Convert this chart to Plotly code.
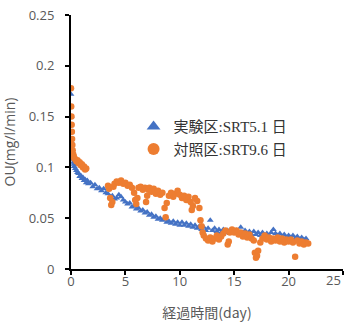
import plotly.graph_objects as go

# 実験区 (SRT5.1日) - blue triangles
exp_day = [0.0, 0.02, 0.04, 0.06, 0.08, 0.1, 0.15, 0.2, 0.25, 0.3, 0.4, 0.5, 0.6, 0.7, 0.8, 0.9,
           1.0, 1.1, 1.2, 1.3, 1.4, 1.5, 1.6, 1.8, 2.0, 2.2, 2.4, 2.6, 2.8, 3.0, 3.2, 3.4, 3.6, 3.8,
           4.0, 4.2, 4.4, 4.6, 4.8, 5.0, 5.2, 5.4, 5.6, 5.8, 6.0, 6.2, 6.4, 6.6, 6.8, 7.0, 7.2, 7.4,
           7.6, 7.8, 8.0, 8.2, 8.4, 8.6, 8.8, 9.0, 9.2, 9.4, 9.6, 9.8, 10.0, 10.2, 10.4, 10.6, 10.8,
           11.0, 11.2, 11.4, 11.6, 11.8, 12.0, 12.2, 12.4, 12.6, 12.8, 13.0, 13.2, 13.4, 13.6, 13.8,
           14.0, 14.2, 14.4, 14.6, 14.8, 15.0, 15.2, 15.4, 15.6, 15.8, 16.0, 16.2, 16.4, 16.6, 16.8,
           17.0, 17.2, 17.4, 17.6, 17.8, 18.0, 18.2, 18.4, 18.6, 18.8, 19.0, 19.2, 19.4, 19.6, 19.8,
           20.0, 20.2, 20.4, 20.6, 20.8, 21.0, 21.2, 21.4, 21.6]
exp_ou = [0.172, 0.15, 0.135, 0.125, 0.118, 0.113, 0.108, 0.105, 0.103, 0.101, 0.099, 0.097, 0.095,
          0.094, 0.091, 0.092, 0.089, 0.09, 0.087, 0.088, 0.085, 0.087, 0.084, 0.085, 0.081, 0.083,
          0.079, 0.08, 0.077, 0.079, 0.075, 0.074, 0.071, 0.072, 0.069, 0.07, 0.073, 0.071, 0.068,
          0.066, 0.064, 0.065, 0.061, 0.062, 0.059, 0.06, 0.057, 0.058, 0.055, 0.056, 0.053, 0.054,
          0.051, 0.052, 0.049, 0.05, 0.048, 0.049, 0.046, 0.047, 0.045, 0.047, 0.044, 0.046, 0.043,
          0.046, 0.043, 0.045, 0.042, 0.044, 0.041, 0.043, 0.04, 0.042, 0.039, 0.041, 0.038, 0.04,
          0.048, 0.038, 0.04, 0.037, 0.039, 0.036, 0.039, 0.036, 0.038, 0.035, 0.038, 0.036, 0.038,
          0.035, 0.041, 0.036, 0.038, 0.035, 0.037, 0.034, 0.037, 0.034, 0.036, 0.033, 0.036, 0.033,
          0.035, 0.033, 0.036, 0.039, 0.035, 0.033, 0.035, 0.032, 0.034, 0.031, 0.033, 0.031, 0.033,
          0.03, 0.032, 0.029, 0.031, 0.029, 0.03]

# 対照区 (SRT9.6日) - orange circles
ctl_day = [0.0, 0.02, 0.04, 0.06, 0.08, 0.1, 0.12, 0.15, 0.2, 0.25, 0.3, 0.4, 0.5, 0.6, 0.7, 0.8,
           0.9, 1.0, 1.1, 1.2, 1.3, 1.4,
           3.4, 3.5, 3.6, 3.7, 3.8, 3.9, 4.0, 4.2, 4.4, 4.6, 4.8, 5.0, 5.2, 5.4, 5.6, 5.8, 5.9, 6.0,
           6.1, 6.2, 6.4, 6.6, 6.8, 6.9, 7.0, 7.1, 7.2, 7.4, 7.6, 7.8, 8.0, 8.2, 8.4, 8.6, 8.7, 8.8,
           9.0, 9.2, 9.4, 9.6, 9.8, 10.0, 10.2, 10.4, 10.6, 10.8, 11.0, 11.1, 11.2, 11.4, 11.6, 11.8,
           11.9, 12.0, 12.1, 12.2, 12.4, 12.6, 12.8, 13.0, 13.2, 13.4, 13.6, 13.8, 14.0, 14.2, 14.4,
           14.5, 14.6, 14.8, 15.0, 15.2, 15.4, 15.6, 15.8, 16.0, 16.2, 16.4, 16.6, 16.8, 16.9, 17.0,
           17.1, 17.2, 17.4, 17.6, 17.8, 18.0, 18.2, 18.4, 18.6, 18.8, 19.0, 19.2, 19.4, 19.6, 19.8,
           20.0, 20.2, 20.4, 20.6, 20.8, 21.0, 21.2, 21.4, 21.6, 21.8]
ctl_ou = [0.178, 0.16, 0.15, 0.142, 0.135, 0.128, 0.122, 0.117, 0.113, 0.111, 0.109, 0.108, 0.106,
          0.107, 0.104, 0.105, 0.102, 0.103, 0.1, 0.101, 0.098, 0.099,
          0.082, 0.079, 0.07, 0.063, 0.066, 0.081, 0.084, 0.086, 0.085, 0.087, 0.084, 0.085, 0.082,
          0.083, 0.08, 0.075, 0.068, 0.064, 0.07, 0.08, 0.081, 0.078, 0.08, 0.066, 0.072, 0.078,
          0.08, 0.076, 0.079, 0.074, 0.077, 0.073, 0.075, 0.06, 0.051, 0.065, 0.072, 0.075, 0.071,
          0.074, 0.077, 0.073, 0.07, 0.072, 0.068, 0.071, 0.066, 0.058, 0.062, 0.07, 0.067, 0.06,
          0.048, 0.042, 0.036, 0.033, 0.03, 0.028, 0.031, 0.027, 0.03, 0.033, 0.029, 0.032, 0.035,
          0.038, 0.024, 0.027, 0.036, 0.039, 0.036, 0.038, 0.034, 0.036, 0.032, 0.035, 0.031, 0.034,
          0.03, 0.028, 0.016, 0.011, 0.013, 0.018, 0.026, 0.03, 0.033, 0.029, 0.031, 0.027, 0.03,
          0.028, 0.031, 0.027, 0.03, 0.026, 0.029, 0.027, 0.029, 0.026, 0.012, 0.028, 0.025, 0.027,
          0.024, 0.026, 0.025]

x_ticks = [0, 5, 10, 15, 20, 25]
x_tick_text = ["0", "5", "10", "15", "20", ""]   # "25" is drawn right-aligned below so it stays inside the page
x_last_label = "25"
y_ticks = [0, 0.05, 0.1, 0.15, 0.2, 0.25]
y_tick_text = ["0", "0.05", "0.1", "0.15", "0.2", "0.25"]

fig = go.Figure()
fig.add_trace(go.Scatter(
    x=exp_day, y=exp_ou, mode="markers", name="実験区:SRT5.1 日",
    marker=dict(symbol="triangle-up", size=6, color="#4472C4"),
))
fig.add_trace(go.Scatter(
    x=ctl_day, y=ctl_ou, mode="markers", name="対照区:SRT9.6 日",
    marker=dict(symbol="circle", size=6.5, color="#ED7D31"),
))

tick_font = dict(family="Open Sans, Liberation Sans, sans-serif", size=13, color="#595959")

fig.update_layout(
    width=344, height=324,
    margin=dict(l=71, r=1, t=15, b=55),
    paper_bgcolor="white", plot_bgcolor="white",
    showlegend=True,
    legend=dict(
        x=0.23, y=0.625, xanchor="left", yanchor="top",
        bgcolor="rgba(0,0,0,0)", itemsizing="constant",
        font=dict(family="Liberation Serif, Noto Sans CJK JP, serif", size=15, color="#333333"),
        tracegroupgap=0,
    ),
    xaxis=dict(
        range=[0, 25], tickvals=x_ticks, ticktext=x_tick_text,
        showgrid=False, zeroline=False, automargin=False,
        ticklabeloverflow="allow", ticklabelstandoff=-5,
        showline=True, linecolor="black", linewidth=2,
        ticks="outside", ticklen=4, tickcolor="black", tickwidth=2,
        tickfont=tick_font,
        title=dict(text="経過時間(day)", font=dict(family="Noto Sans CJK JP, sans-serif", size=14, color="#595959"), standoff=20),
    ),
    yaxis=dict(
        range=[0, 0.25], tickvals=y_ticks, ticktext=y_tick_text, showgrid=False, zeroline=False,
        automargin=False, ticklabelstandoff=8, ticklabeloverflow="allow",
        showline=True, linecolor="black", linewidth=2,
        ticks="outside", ticklen=4, tickcolor="black", tickwidth=2,
        tickfont=tick_font,
        title=dict(text="OU(mg/l/min)", font=dict(family="Open Sans, sans-serif", size=14, color="#595959"), standoff=14),
    ),
    annotations=[dict(
        x=x_ticks[-1], xref="x", y=0, yref="paper", text=x_last_label, showarrow=False,
        xanchor="right", yanchor="middle", yshift=-11, font=tick_font,
    )],
)

fig.write_html("out.html", config={"displayModeBar": False},
               post_script="document.body.style.margin='0';")
